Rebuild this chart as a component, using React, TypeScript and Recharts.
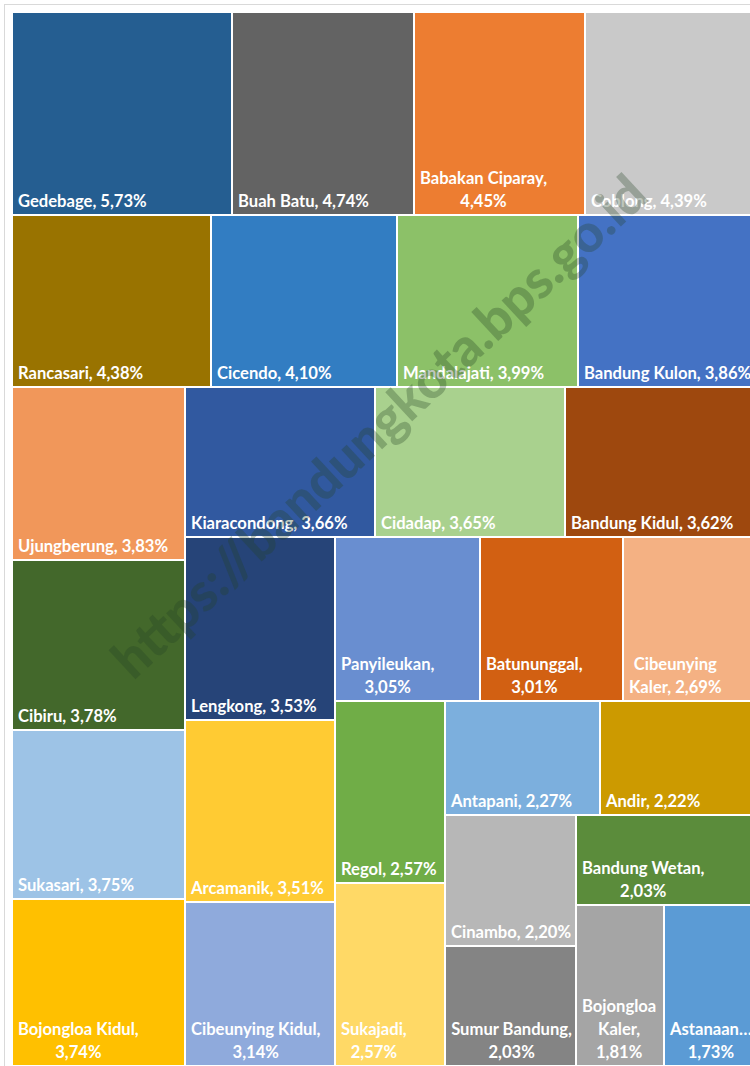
import { Treemap } from "recharts";

// share of population per kecamatan (%), in the order the treemap lays them out
const districts = [
  "Gedebage", "Buah Batu", "Babakan Ciparay", "Coblong", "Rancasari",
  "Cicendo", "Mandalajati", "Bandung Kulon", "Ujungberung", "Cibiru",
  "Sukasari", "Bojongloa Kidul", "Kiaracondong", "Cidadap", "Bandung Kidul",
  "Lengkong", "Arcamanik", "Cibeunying Kidul", "Panyileukan", "Batununggal",
  "Cibeunying Kaler", "Regol", "Sukajadi", "Antapani", "Andir",
  "Cinambo", "Sumur Bandung", "Bandung Wetan", "Bojongloa Kaler", "Astanaanyar",
];
const shares = [
  5.73, 4.74, 4.45, 4.39, 4.38,
  4.1, 3.99, 3.86, 3.83, 3.78,
  3.75, 3.74, 3.66, 3.65, 3.62,
  3.53, 3.51, 3.14, 3.05, 3.01,
  2.69, 2.57, 2.57, 2.27, 2.22,
  2.2, 2.03, 2.03, 1.81, 1.73,
];
const colors = [
  "#255E91", "#636363", "#ED7D31", "#C9C9C9", "#997300",
  "#327DC2", "#8CC168", "#4472C4", "#F1975A", "#43682B",
  "#9DC3E6", "#FFC000", "#3159A0", "#A9D18E", "#9E480E",
  "#264478", "#FFCB33", "#8FAADC", "#698ED0", "#D26012",
  "#F4B183", "#70AD47", "#FFD966", "#7CAFDD", "#CC9A00",
  "#B7B7B7", "#848484", "#5B8C3B", "#A5A5A5", "#5B9BD5",
];

const data = districts.map((name, i) => ({ name, value: shares[i], idx: i }));

const FONT = "bold 16.6px Lato";
let ctx: CanvasRenderingContext2D | null = null;
const measure = (s: string) => {
  if (!ctx) ctx = document.createElement("canvas").getContext("2d");
  if (!ctx) return s.length * 8;
  ctx.font = FONT;
  return ctx.measureText(s).width;
};

const truncate = (s: string, maxW: number) => {
  if (measure(s) <= maxW) return s;
  let t = s;
  while (t.length > 1 && measure(t + "…") > maxW) t = t.slice(0, -1);
  return t + "…";
};

const wrapLabel = (text: string, maxW: number) => {
  if (measure(text) <= maxW) return [text];
  const lines: string[] = [];
  let cur = "";
  for (const w of text.split(" ")) {
    const next = cur ? cur + " " + w : w;
    if (measure(next) <= maxW) cur = next;
    else {
      if (cur) lines.push(cur);
      cur = w;
    }
  }
  if (cur) lines.push(cur);
  return lines.map((l) => truncate(l, maxW));
};

const Cell = (props: any) => {
  const { x, y, width, height, depth, name, value, idx } = props;
  if (depth < 1) return <g />;
  const label = `${name}, ${Number(value).toFixed(2).replace(".", ",")}%`;
  const lines = wrapLabel(label, width - 4);
  const bottom = y + height - 8;
  const blockW = Math.max(...lines.map(measure));
  return (
    <g>
      <rect
        x={x}
        y={y}
        width={width}
        height={height}
        fill={colors[idx]}
        stroke="#fff"
        strokeWidth={2}
      />
      {lines.map((l, i) => (
        <text
          key={i}
          x={lines.length === 1 ? x + 6 : x + 6 + blockW / 2}
          y={bottom - (lines.length - 1 - i) * 23}
          textAnchor={lines.length === 1 ? "start" : "middle"}
          fill="#fff"
          stroke="none"
          style={{ font: FONT }}
        >
          {l}
        </text>
      ))}
    </g>
  );
};

export default function App() {
  return (
    <div style={{ fontFamily: "Lato, sans-serif" }}>
      <div
        style={{
          position: "absolute",
          left: 4,
          top: 4,
          width: 780,
          height: 1080,
          border: "1px solid #d9d9d9",
          background: "#fff",
        }}
      />
      <div style={{ position: "absolute", left: 12, top: 12 }}>
        <Treemap
          width={740}
          height={1054}
          data={data}
          dataKey="value"
          nameKey="name"
          aspectRatio={0.9}
          stroke="#fff"
          isAnimationActive={false}
          content={Cell}
        />
      </div>
      <div
        style={{
          position: "absolute",
          left: 378,
          top: 425,
          transform: "translate(-50%, -50%) rotate(-43deg)",
          whiteSpace: "nowrap",
          font: "900 53px Lato",
          color: "rgba(35, 65, 35, 0.3)",
          pointerEvents: "none",
        }}
      >
        https://bandungkota.bps.go.id
      </div>
    </div>
  );
}
